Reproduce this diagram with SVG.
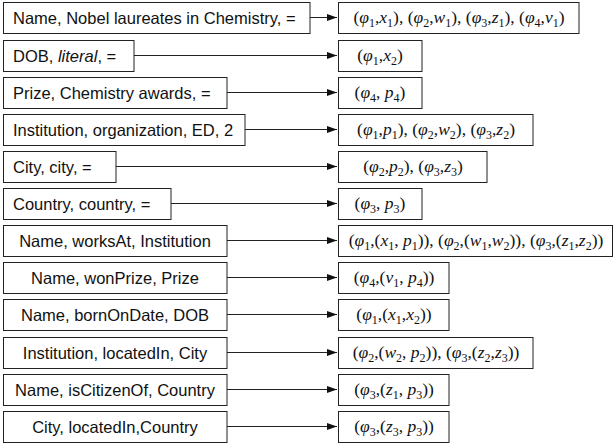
<svg xmlns="http://www.w3.org/2000/svg" width="614" height="446" viewBox="0 0 614 446">
<defs>
<marker id="ah" markerUnits="userSpaceOnUse" markerWidth="10" markerHeight="7" refX="10" refY="3.5" orient="auto">
<path d="M0,0 L10,3.5 L0,7 z" fill="#111"/>
</marker>
<style>
.b{fill:#fff;stroke:#222;stroke-width:1}
.c line{stroke:#222;stroke-width:1;marker-end:url(#ah)}
.l{font-family:"Liberation Sans",Arial,Helvetica,sans-serif;font-size:16.5px;fill:#111}
.m{font-family:"Liberation Serif","DejaVu Serif",serif;font-size:17.5px;fill:#111;text-anchor:middle}
.i{font-style:italic}
.s{font-size:12px}
</style>
</defs>
<g id="L1"><rect class="b" x="3.5" y="2.5" width="306.5" height="31"/><text class="l" x="13" y="24">Name, Nobel laureates in Chemistry, =</text></g>
<g id="L2"><rect class="b" x="3.5" y="40.5" width="130.5" height="31"/><text class="l" x="13" y="62">DOB, <tspan font-style="italic">literal</tspan>, =</text></g>
<g id="L3"><rect class="b" x="3.5" y="77.5" width="223.5" height="31"/><text class="l" x="13" y="99">Prize, Chemistry awards, =</text></g>
<g id="L4"><rect class="b" x="3.5" y="114.5" width="241.5" height="31"/><text class="l" x="13" y="136">Institution, organization, ED, 2</text></g>
<g id="L5"><rect class="b" x="3.5" y="151.5" width="112.5" height="31"/><text class="l" x="13" y="173">City, city, =</text></g>
<g id="L6"><rect class="b" x="3.5" y="188.5" width="167.5" height="31"/><text class="l" x="13" y="210">Country, country, =</text></g>
<g id="L7"><rect class="b" x="3.5" y="225.5" width="223.5" height="31"/><text class="l" x="115" y="247" text-anchor="middle">Name, worksAt, Institution</text></g>
<g id="L8"><rect class="b" x="3.5" y="262.5" width="223.5" height="31"/><text class="l" x="115" y="284" text-anchor="middle">Name, wonPrize, Prize</text></g>
<g id="L9"><rect class="b" x="3.5" y="299.5" width="223.5" height="31"/><text class="l" x="115" y="321" text-anchor="middle">Name, bornOnDate, DOB</text></g>
<g id="L10"><rect class="b" x="3.5" y="337.5" width="223.5" height="31"/><text class="l" x="115" y="359" text-anchor="middle">Institution, locatedIn, City</text></g>
<g id="L11"><rect class="b" x="3.5" y="374.5" width="223.5" height="31"/><text class="l" x="115" y="396" text-anchor="middle">Name, isCitizenOf, Country</text></g>
<g id="L12"><rect class="b" x="3.5" y="411.5" width="223.5" height="31"/><text class="l" x="115" y="433" text-anchor="middle">City, locatedIn,Country</text></g>

<g id="R1"><rect class="b" x="338.5" y="2.5" width="240.5" height="31"/><text class="m" x="459" y="23">(<tspan class="i">φ</tspan><tspan class="s" dy="3.5">1</tspan><tspan dy="-3.5">,</tspan><tspan class="i">x</tspan><tspan class="s" dy="3.5">1</tspan><tspan dy="-3.5">), (</tspan><tspan class="i">φ</tspan><tspan class="s" dy="3.5">2</tspan><tspan dy="-3.5">,</tspan><tspan class="i">w</tspan><tspan class="s" dy="3.5">1</tspan><tspan dy="-3.5">), (</tspan><tspan class="i">φ</tspan><tspan class="s" dy="3.5">3</tspan><tspan dy="-3.5">,</tspan><tspan class="i">z</tspan><tspan class="s" dy="3.5">1</tspan><tspan dy="-3.5">), (</tspan><tspan class="i">φ</tspan><tspan class="s" dy="3.5">4</tspan><tspan dy="-3.5">,</tspan><tspan class="i">v</tspan><tspan class="s" dy="3.5">1</tspan><tspan dy="-3.5">)</tspan></text></g>
<g id="R2"><rect class="b" x="338.5" y="40.5" width="83.5" height="31"/><text class="m" x="380" y="61">(<tspan class="i">φ</tspan><tspan class="s" dy="3.5">1</tspan><tspan dy="-3.5">,</tspan><tspan class="i">x</tspan><tspan class="s" dy="3.5">2</tspan><tspan dy="-3.5">)</tspan></text></g>
<g id="R3"><rect class="b" x="338.5" y="77.5" width="83.5" height="31"/><text class="m" x="380" y="98">(<tspan class="i">φ</tspan><tspan class="s" dy="3.5">4</tspan><tspan dy="-3.5">, </tspan><tspan class="i">p</tspan><tspan class="s" dy="3.5">4</tspan><tspan dy="-3.5">)</tspan></text></g>
<g id="R4"><rect class="b" x="338.5" y="114.5" width="194.5" height="31"/><text class="m" x="436" y="135">(<tspan class="i">φ</tspan><tspan class="s" dy="3.5">1</tspan><tspan dy="-3.5">,</tspan><tspan class="i">p</tspan><tspan class="s" dy="3.5">1</tspan><tspan dy="-3.5">), (</tspan><tspan class="i">φ</tspan><tspan class="s" dy="3.5">2</tspan><tspan dy="-3.5">,</tspan><tspan class="i">w</tspan><tspan class="s" dy="3.5">2</tspan><tspan dy="-3.5">), (</tspan><tspan class="i">φ</tspan><tspan class="s" dy="3.5">3</tspan><tspan dy="-3.5">,</tspan><tspan class="i">z</tspan><tspan class="s" dy="3.5">2</tspan><tspan dy="-3.5">)</tspan></text></g>
<g id="R5"><rect class="b" x="338.5" y="151.5" width="148.5" height="31"/><text class="m" x="413" y="172">(<tspan class="i">φ</tspan><tspan class="s" dy="3.5">2</tspan><tspan dy="-3.5">,</tspan><tspan class="i">p</tspan><tspan class="s" dy="3.5">2</tspan><tspan dy="-3.5">), (</tspan><tspan class="i">φ</tspan><tspan class="s" dy="3.5">3</tspan><tspan dy="-3.5">,</tspan><tspan class="i">z</tspan><tspan class="s" dy="3.5">3</tspan><tspan dy="-3.5">)</tspan></text></g>
<g id="R6"><rect class="b" x="338.5" y="188.5" width="83.5" height="31"/><text class="m" x="380" y="209">(<tspan class="i">φ</tspan><tspan class="s" dy="3.5">3</tspan><tspan dy="-3.5">, </tspan><tspan class="i">p</tspan><tspan class="s" dy="3.5">3</tspan><tspan dy="-3.5">)</tspan></text></g>
<g id="R7"><rect class="b" x="338.5" y="225.5" width="274" height="31"/><text class="m" x="476" y="246">(<tspan class="i">φ</tspan><tspan class="s" dy="3.5">1</tspan><tspan dy="-3.5">,(</tspan><tspan class="i">x</tspan><tspan class="s" dy="3.5">1</tspan><tspan dy="-3.5">, </tspan><tspan class="i">p</tspan><tspan class="s" dy="3.5">1</tspan><tspan dy="-3.5">)), (</tspan><tspan class="i">φ</tspan><tspan class="s" dy="3.5">2</tspan><tspan dy="-3.5">,(</tspan><tspan class="i">w</tspan><tspan class="s" dy="3.5">1</tspan><tspan dy="-3.5">,</tspan><tspan class="i">w</tspan><tspan class="s" dy="3.5">2</tspan><tspan dy="-3.5">)), (</tspan><tspan class="i">φ</tspan><tspan class="s" dy="3.5">3</tspan><tspan dy="-3.5">,(</tspan><tspan class="i">z</tspan><tspan class="s" dy="3.5">1</tspan><tspan dy="-3.5">,</tspan><tspan class="i">z</tspan><tspan class="s" dy="3.5">2</tspan><tspan dy="-3.5">))</tspan></text></g>
<g id="R8"><rect class="b" x="338.5" y="262.5" width="110.5" height="31"/><text class="m" x="394" y="283">(<tspan class="i">φ</tspan><tspan class="s" dy="3.5">4</tspan><tspan dy="-3.5">,(</tspan><tspan class="i">v</tspan><tspan class="s" dy="3.5">1</tspan><tspan dy="-3.5">, </tspan><tspan class="i">p</tspan><tspan class="s" dy="3.5">4</tspan><tspan dy="-3.5">))</tspan></text></g>
<g id="R9"><rect class="b" x="338.5" y="299.5" width="110.5" height="31"/><text class="m" x="394" y="320">(<tspan class="i">φ</tspan><tspan class="s" dy="3.5">1</tspan><tspan dy="-3.5">,(</tspan><tspan class="i">x</tspan><tspan class="s" dy="3.5">1</tspan><tspan dy="-3.5">,</tspan><tspan class="i">x</tspan><tspan class="s" dy="3.5">2</tspan><tspan dy="-3.5">))</tspan></text></g>
<g id="R10"><rect class="b" x="338.5" y="337.5" width="194.5" height="31"/><text class="m" x="436" y="358">(<tspan class="i">φ</tspan><tspan class="s" dy="3.5">2</tspan><tspan dy="-3.5">,(</tspan><tspan class="i">w</tspan><tspan class="s" dy="3.5">2</tspan><tspan dy="-3.5">, </tspan><tspan class="i">p</tspan><tspan class="s" dy="3.5">2</tspan><tspan dy="-3.5">)), (</tspan><tspan class="i">φ</tspan><tspan class="s" dy="3.5">3</tspan><tspan dy="-3.5">,(</tspan><tspan class="i">z</tspan><tspan class="s" dy="3.5">2</tspan><tspan dy="-3.5">,</tspan><tspan class="i">z</tspan><tspan class="s" dy="3.5">3</tspan><tspan dy="-3.5">))</tspan></text></g>
<g id="R11"><rect class="b" x="338.5" y="374.5" width="110.5" height="31"/><text class="m" x="394" y="395">(<tspan class="i">φ</tspan><tspan class="s" dy="3.5">3</tspan><tspan dy="-3.5">,(</tspan><tspan class="i">z</tspan><tspan class="s" dy="3.5">1</tspan><tspan dy="-3.5">, </tspan><tspan class="i">p</tspan><tspan class="s" dy="3.5">3</tspan><tspan dy="-3.5">))</tspan></text></g>
<g id="R12"><rect class="b" x="338.5" y="411.5" width="110.5" height="31"/><text class="m" x="394" y="432">(<tspan class="i">φ</tspan><tspan class="s" dy="3.5">3</tspan><tspan dy="-3.5">,(</tspan><tspan class="i">z</tspan><tspan class="s" dy="3.5">3</tspan><tspan dy="-3.5">, </tspan><tspan class="i">p</tspan><tspan class="s" dy="3.5">3</tspan><tspan dy="-3.5">))</tspan></text></g>

<g id="connectors" class="c">
<line x1="310" y1="17.5" x2="337" y2="17.5"/>
<line x1="134" y1="55.5" x2="337" y2="55.5"/>
<line x1="227" y1="92.5" x2="337" y2="92.5"/>
<line x1="245" y1="129.5" x2="337" y2="129.5"/>
<line x1="116" y1="166.5" x2="337" y2="166.5"/>
<line x1="171" y1="203.5" x2="337" y2="203.5"/>
<line x1="227" y1="240.5" x2="337" y2="240.5"/>
<line x1="227" y1="277.5" x2="337" y2="277.5"/>
<line x1="227" y1="314.5" x2="337" y2="314.5"/>
<line x1="227" y1="352.5" x2="337" y2="352.5"/>
<line x1="227" y1="389.5" x2="337" y2="389.5"/>
<line x1="227" y1="426.5" x2="337" y2="426.5"/>
</g>
</svg>
